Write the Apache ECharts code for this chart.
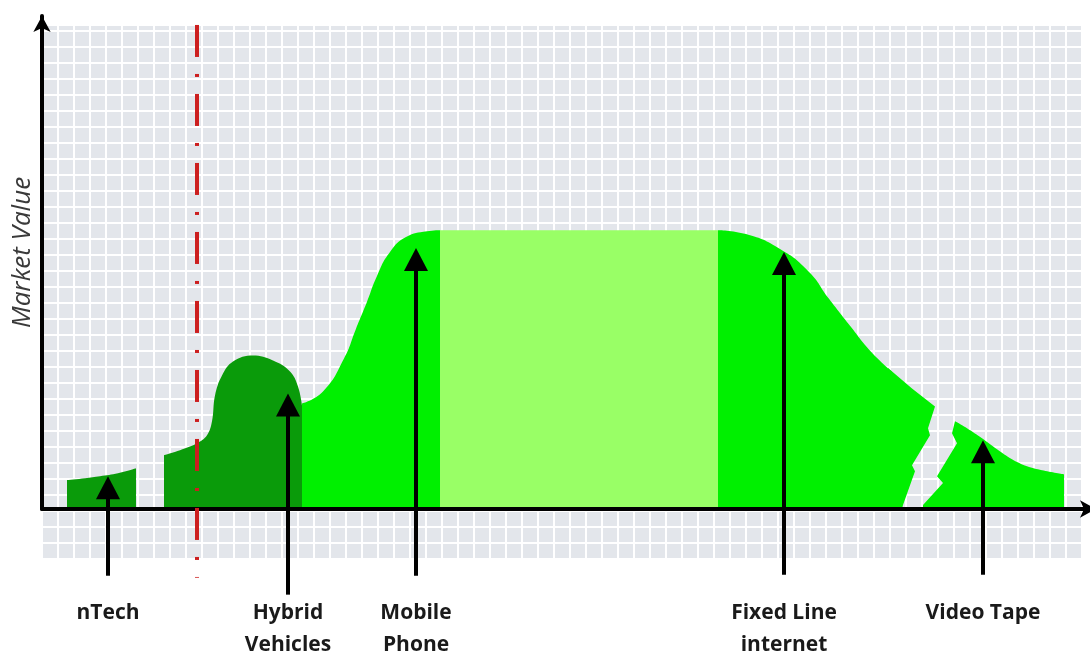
<!DOCTYPE html>
<html>
<head>
<meta charset="utf-8">
<script src="https://cdn.jsdelivr.net/npm/echarts@6/dist/echarts.min.js"></script>
<style>
html,body{margin:0;padding:0;background:#fff;}
#chart{width:1090px;height:661px;}
</style>
</head>
<body>
<div id="chart"></div>
<script>
// ---- Data (x = time, y = market value) ----
const nTechCurve = [[25,29],[43,31],[58,33],[76,36],[94,41]];
const hybridCurve = [[122,54],[138,59],[155,66],[165,74],[170,88],[173,114],[180,134],[191,148],[211,154],[231,149],[248,138],[256,123],[260,104]];
const mobileCurve = [[260,106],[281,118],[302,151],[314,181],[325,208],[335,234],[348,258],[364,273],[385,279],[398,280]];
const plateau = [[398,280],[676,280]];
const fixedCurve = [[676,280],[704,276],[738,261],[767,238],[787,211],[808,184],[829,158],[850,138]];
const fixedBreak = [[846,141.5],[870,121],[893,103],[886,81],[888,74],[870,44],[873,38],[861,4],[860,0]];
const videoBreak = [[881,4],[901,26],[895,33],[915,66],[910,76],[913,88],[916,86.5]];
const videoCurve = [[916,86.5],[925,81],[940,71],[955,60],[970,50],[985,43],[1000,39],[1022,35]];

const techNames = ['nTech', 'Hybrid\nVehicles', 'Mobile\nPhone', 'Fixed Line\ninternet', 'Video Tape'];
const techX     = [66, 246, 374, 742, 941];
const techTip   = [33, 116, 262, 258, 69];
const techFoot  = [-67, -86, -67, -66, -66];

const todayX = 155;
const todayExtent = [486, -69];

// ---- Styling ----
const DARK = '#0a9b0a', BRIGHT = '#00f000', LIGHT = '#99ff66';
const DASH_PATTERN = [32, 17, 3, 17];

function area(data, color, smooth, z) {
  return {
    type: 'line', xAxisIndex: 1, yAxisIndex: 1, data: data,
    smooth: smooth, showSymbol: false, symbol: 'none', clip: false, z: z,
    lineStyle: { width: 0, color: color },
    areaStyle: { color: color, opacity: 1 },
    silent: true
  };
}

const arrowData = techX.map((x, i) => [x, techTip[i], techFoot[i]]);

const option = {
  animation: false,
  grid: [
    { left: 42, right: 8, top: 25, bottom: 102, show: true, backgroundColor: '#e3e6eb', borderWidth: 0 },
    { left: 42, right: 0, top: 16, bottom: 150, show: false }
  ],
  xAxis: [
    { type: 'value', gridIndex: 0, min: 0, max: 1040, interval: 16,
      axisLine: { show: false }, axisTick: { show: false }, axisLabel: { show: false },
      splitLine: { show: true, lineStyle: { color: '#ffffff', width: 2 } } },
    { type: 'value', gridIndex: 1, min: 0, max: 1048, z: 10,
      axisLine: { show: true, onZero: true, symbol: ['none', 'arrow'], symbolSize: [13, 16], symbolOffset: [0, 6],
        lineStyle: { color: '#000', width: 4 } },
      axisTick: { show: false }, axisLabel: { show: false }, splitLine: { show: false } },
    { type: 'value', gridIndex: 1, min: 0, max: 1048, position: 'bottom',
      axisLine: { show: false }, axisTick: { show: false }, splitLine: { show: false },
      axisLabel: {
        show: true, customValues: techX, margin: 88,
        formatter: function (v) { const i = techX.indexOf(v); return i >= 0 ? techNames[i] : ''; },
        fontFamily: 'Open Sans', fontWeight: 'bold', fontSize: 21, color: '#1a1a1a', lineHeight: 32
      } }
  ],
  yAxis: [
    { type: 'value', gridIndex: 0, min: -48, max: 486, interval: 16,
      axisLine: { show: false }, axisTick: { show: false }, axisLabel: { show: false },
      splitLine: { show: true, lineStyle: { color: '#ffffff', width: 2 } } },
    { type: 'value', gridIndex: 1, min: 0, max: 495, z: 10,
      name: 'Market Value', nameLocation: 'middle', nameGap: 6, nameRotate: 90,
      nameTextStyle: { fontFamily: 'Open Sans', fontStyle: 'italic', fontSize: 26, color: '#3a3a3a',
        padding: [0, 0, 0, 20] },
      axisLine: { show: true, symbol: ['none', 'arrow'], symbolSize: [13, 16],
        lineStyle: { color: '#000', width: 4 } },
      axisTick: { show: false }, axisLabel: { show: false }, splitLine: { show: false } }
  ],
  series: [
    area(nTechCurve, DARK, 0.4, 3),
    area(mobileCurve, BRIGHT, 0.5, 2),
    area(hybridCurve, DARK, 0.4, 3),
    area(plateau, LIGHT, false, 2),
    area(fixedCurve, BRIGHT, 0.5, 2),
    area(fixedBreak, BRIGHT, false, 2),
    area(videoBreak, BRIGHT, false, 2),
    area(videoCurve, BRIGHT, 0.4, 2),
    {
      type: 'custom', xAxisIndex: 1, yAxisIndex: 1, z: 20, silent: true,
      data: [[todayX, todayExtent[0], todayExtent[1]]], encode: { x: 0, y: 1 },
      renderItem: function (params, api) {
        const x = api.value(0);
        const a = api.coord([x, api.value(1)]);
        const b = api.coord([x, api.value(2)]);
        const children = [];
        let y = a[1], k = 0;
        while (y < b[1]) {
          const len = DASH_PATTERN[k % DASH_PATTERN.length];
          if (k % 2 === 0) {
            children.push({ type: 'rect', shape: { x: Math.round(a[0]) - 2, y: y, width: 4, height: Math.min(len, b[1] - y) },
              style: { fill: '#cc1f1f' } });
          }
          y += len; k++;
        }
        return { type: 'group', children: children };
      }
    },
    {
      type: 'custom', xAxisIndex: 1, yAxisIndex: 1, z: 6, silent: true,
      data: arrowData, encode: { x: 0, y: 1 },
      renderItem: function (params, api) {
        const x = api.value(0);
        const tip = api.coord([x, api.value(1)]);
        const foot = api.coord([x, api.value(2)]);
        return {
          type: 'group',
          children: [
            { type: 'line', shape: { x1: tip[0], y1: tip[1] + 18, x2: foot[0], y2: foot[1] },
              style: { stroke: '#000', lineWidth: 4 } },
            { type: 'polygon', shape: { points: [[tip[0], tip[1]], [tip[0] - 12, tip[1] + 23], [tip[0] + 12, tip[1] + 23]] },
              style: { fill: '#000' } }
          ]
        };
      }
    }
  ]
};

const chart = echarts.init(document.getElementById('chart'), null, { renderer: 'canvas' });
chart.setOption(option);
</script>
</body>
</html>
